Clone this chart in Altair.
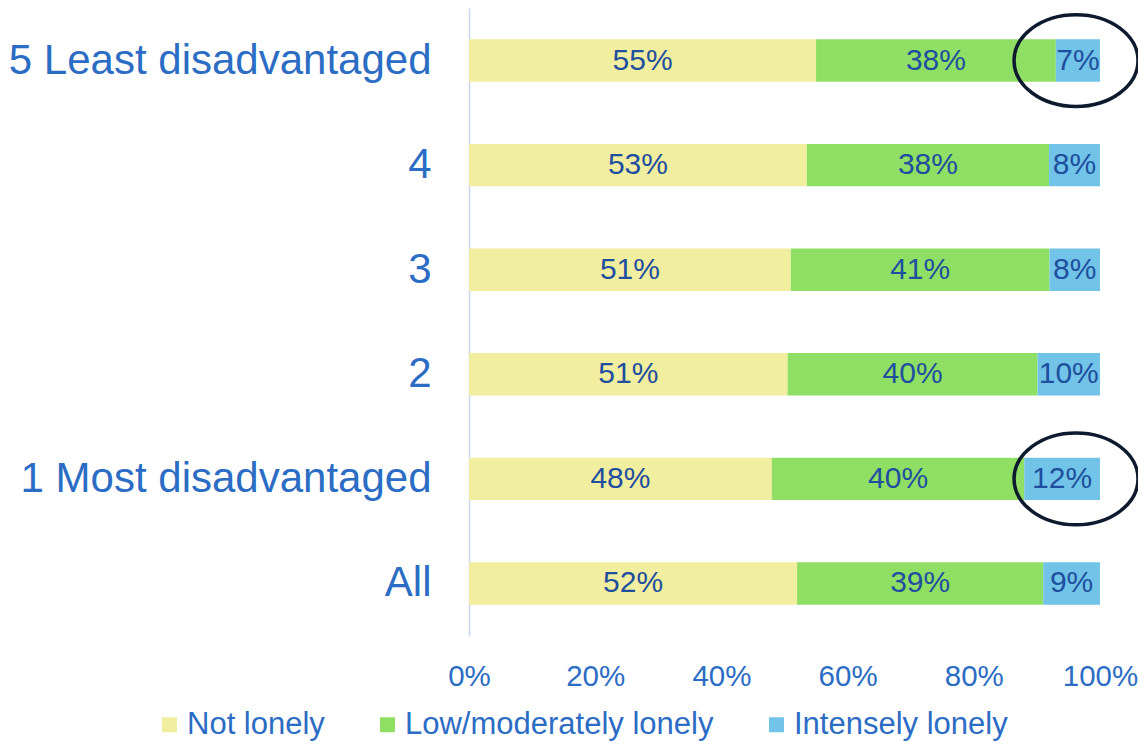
import altair as alt
import pandas as pd

categories = ["5 Least disadvantaged", "4", "3", "2", "1 Most disadvantaged", "All"]
series = ["Not lonely", "Low/moderately lonely", "Intensely lonely"]
not_lonely = [55, 53, 51, 51, 48, 52]
low_moderately_lonely = [38, 38, 41, 40, 40, 39]
intensely_lonely = [7, 8, 8, 10, 12, 9]
colors = ["#f2eea0", "#8fdf64", "#71c4e8"]
x_ticks = [0, 0.2, 0.4, 0.6, 0.8, 1.0]

highlight_rows = ["5 Least disadvantaged", "1 Most disadvantaged"]
highlight_pos = [0.962, 0.962]

rows = []
for i, cat in enumerate(categories):
    for j, (s, vals) in enumerate(zip(series, [not_lonely, low_moderately_lonely, intensely_lonely])):
        rows.append({"category": cat, "series": s, "order": j, "value": vals[i]})
df = pd.DataFrame(rows)
hl = pd.DataFrame({"category": highlight_rows, "pos": highlight_pos})

FONT = "Liberation Sans, Arial, sans-serif"
LABEL_BLUE = "#2b6cc4"
TEXT_BLUE = "#1f4f9e"

y_scale = alt.Scale(domain=categories, paddingInner=0.595, paddingOuter=0.3)
x_scale = alt.Scale(domain=[0, 1], nice=False, zero=True)

y_axis = alt.Axis(
    title=None, ticks=False, tickSize=0, labelPadding=38, labelLimit=1000,
    labelFontSize=42, labelFont=FONT, labelColor=LABEL_BLUE,
    domainColor="#c6d8f0", domainWidth=1.5, grid=False,
)
x_axis = alt.Axis(
    title=None, values=x_ticks, format=".0%", ticks=False, tickSize=0, domain=False,
    grid=False, labelFlush=False, labelPadding=26, labelFontSize=29.5, labelFont=FONT,
    labelColor=LABEL_BLUE, labelOverlap=False,
)

base = (
    alt.Chart(df)
    .transform_joinaggregate(total="sum(value)", groupby=["category"])
    .transform_window(cum="sum(value)", groupby=["category"],
                      sort=[alt.SortField("order")], frame=[None, 0])
    .transform_calculate(
        start="(datum.cum - datum.value) / datum.total",
        end="datum.cum / datum.total",
        mid="(datum.cum - datum.value / 2) / datum.total",
        label="datum.value + '%'",
    )
)

bars = base.mark_bar().encode(
    y=alt.Y("category:N", scale=y_scale, axis=y_axis, sort=categories),
    x=alt.X("start:Q", scale=x_scale, axis=x_axis),
    x2="end:Q",
    color=alt.Color(
        "series:N",
        scale=alt.Scale(domain=series, range=colors),
        legend=alt.Legend(
            title=None, orient="none", direction="horizontal",
            legendX=-315, legendY=701, padding=0,
            symbolType="square", symbolSize=225, symbolStrokeWidth=0,
            labelFont=FONT, labelFontSize=31, labelColor=LABEL_BLUE,
            labelOffset=2, columnPadding=47, labelLimit=1000,
        ),
    ),
    order=alt.Order("order:Q"),
)

texts = base.mark_text(font=FONT, fontSize=30, color=TEXT_BLUE, baseline="middle").encode(
    y=alt.Y("category:N", scale=y_scale, axis=y_axis, sort=categories),
    x=alt.X("mid:Q", scale=x_scale, axis=x_axis),
    text="label:N",
)

ellipse_path = "M -1 0 A 1 0.74 0 1 0 1 0 A 1 0.74 0 1 0 -1 0 Z"
ellipses = alt.Chart(hl).mark_point(
    shape=ellipse_path, size=124 * 124, filled=False,
    stroke="#0e1a2e", strokeWidth=3.5, opacity=1,
).encode(
    y=alt.Y("category:N", scale=y_scale, axis=y_axis, sort=categories),
    x=alt.X("pos:Q", scale=x_scale, axis=x_axis),
)

chart = (
    alt.layer(bars, texts, ellipses)
    .properties(
        width=631, height=628,
        autosize=alt.AutoSizeParams(type="none"),
        padding={"left": 461, "right": 38, "top": 0, "bottom": 108},
        background="white",
    )
    .configure_view(stroke=None)
)

chart.save("out.html", embed_options={"renderer": "svg", "actions": False})
